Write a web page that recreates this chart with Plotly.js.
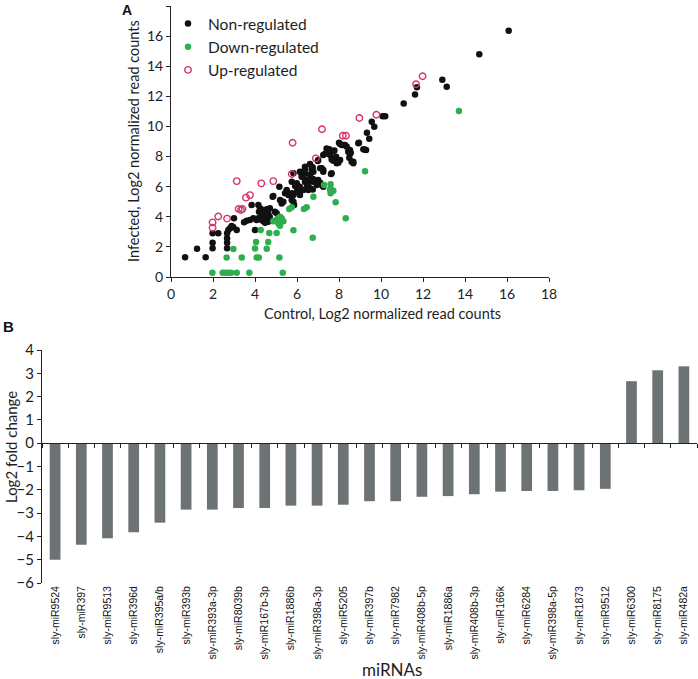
<!DOCTYPE html>
<html>
<head>
<meta charset="utf-8">
<script src="https://cdn.plot.ly/plotly-3.0.1.min.js"></script>
<style>html,body{margin:0;padding:0;background:#fff;}#chart{width:698px;height:679px;}</style>
</head>
<body>
<div id="chart"></div>
<script>
// ---------- Panel A data (Log2 normalized read counts) ----------
const nonRegX = [0.67,1.24,1.65,1.98,1.98,1.98,2.25,2.67,2.67,2.67,2.67,2.73,2.81,2.89,2.97,3.13,3.00,3.48,3.60,3.76,3.92,4.08,4.16,3.84,4.00,4.16,4.24,4.19,4.32,4.40,4.48,4.32,4.48,4.63,4.56,4.71,4.63,4.48,4.32,4.40,4.70,4.84,4.95,5.03,4.87,5.19,5.27,5.35,5.43,5.51,5.59,5.75,5.99,5.75,5.83,5.86,5.83,6.14,6.06,5.51,5.16,5.91,5.75,5.99,6.06,6.14,6.30,6.46,6.54,6.54,6.43,6.70,6.78,6.62,6.38,6.22,5.83,6.14,6.22,6.30,6.38,6.38,6.62,6.70,6.75,6.70,6.78,6.78,6.86,7.01,7.10,7.18,6.38,6.46,6.49,6.62,6.75,6.94,7.10,7.25,7.18,7.25,7.10,7.25,7.62,7.65,6.99,7.01,7.25,7.35,7.41,7.41,7.54,7.57,7.78,7.73,7.73,7.86,7.94,7.97,7.89,7.65,7.73,8.05,8.00,8.05,8.13,8.21,8.29,8.37,8.44,8.52,8.56,8.52,8.49,8.60,8.68,8.68,8.92,8.95,9.16,9.29,9.24,9.33,9.44,9.56,9.68,10.08,10.20,11.08,11.62,11.71,12.92,13.13,14.68,16.08];
const nonRegY = [1.31,1.88,1.31,1.91,2.28,2.90,2.90,1.91,2.28,2.57,2.90,3.12,3.23,3.39,3.30,3.12,3.90,3.63,3.74,3.78,3.90,3.78,3.90,4.78,3.12,4.78,4.56,4.34,4.23,4.45,4.27,4.00,3.96,4.23,4.50,4.56,3.67,3.61,3.78,3.70,4.00,5.33,4.34,4.23,5.38,5.11,4.89,5.00,5.56,5.66,5.44,5.56,5.66,5.11,5.00,4.78,5.44,5.44,5.66,5.78,6.00,6.04,6.33,6.22,6.00,6.00,5.78,5.89,5.78,6.22,6.44,6.55,6.33,6.77,6.89,6.66,6.89,6.99,6.89,6.66,7.32,7.15,7.50,7.32,7.28,7.10,6.99,6.49,6.40,6.44,6.26,6.11,6.33,6.22,6.04,5.89,5.82,6.11,6.22,6.00,7.22,7.10,7.22,6.99,6.84,6.89,7.70,7.77,8.10,8.21,8.21,8.54,8.48,8.10,8.41,8.37,7.88,7.99,7.77,7.59,7.55,7.81,7.72,7.77,8.92,8.83,8.77,8.77,8.77,8.65,8.32,8.43,8.25,8.21,7.92,7.66,7.55,7.66,8.88,8.92,8.48,8.43,8.45,9.58,9.18,10.31,9.98,10.67,10.67,11.53,12.13,12.60,13.10,12.64,14.79,16.36];

const downX = [1.97,2.46,2.60,2.73,2.86,3.13,3.73,5.32,2.65,2.97,3.37,4.00,4.05,4.08,4.18,4.27,4.56,4.63,4.68,5.03,5.16,5.19,4.87,5.03,5.11,5.19,5.27,5.35,5.11,5.63,5.75,5.83,6.33,6.46,6.78,6.75,7.29,7.60,7.57,7.65,7.73,7.60,7.84,8.32,9.24,13.71];
const downY = [0.29,0.29,0.29,0.29,0.29,0.29,0.29,0.29,1.30,1.86,1.30,1.90,2.32,1.30,1.30,3.12,1.88,2.32,2.92,2.92,1.30,3.40,3.70,3.80,3.92,4.00,3.90,3.70,3.56,4.52,4.63,3.10,4.52,4.63,5.33,2.61,6.11,6.16,5.82,5.78,5.73,5.56,4.96,3.90,7.02,11.02];

const upX = [1.98,1.98,2.25,2.67,3.13,3.22,3.33,3.40,3.57,3.76,4.30,4.87,5.75,5.79,6.90,7.19,8.18,8.33,8.97,9.78,11.67,11.98];
const upY = [3.27,3.63,4.02,3.88,6.37,4.52,4.45,4.52,5.27,5.44,6.22,6.37,6.84,8.92,7.88,9.81,9.38,9.38,10.56,10.78,12.80,13.33];

const seriesNames = ["Non-regulated", "Down-regulated", "Up-regulated"];

// ---------- Panel B data (Log2 fold change) ----------
const miRNAs = ["sly-miR9524","sly-miR397","sly-miR9513","sly-miR396d","sly-miR395a/b","sly-miR393b","sly-miR393a-3p","sly-miR8039b","sly-miR167b-3p","sly-miR1886b","sly-miR398a-3p","sly-miR5205","sly-miR397b","sly-miR7982","sly-miR408b-5p","sly-miR1886a","sly-miR408b-3p","sly-miR166k","sly-miR6284","sly-miR398a-5p","sly-miR1873","sly-miR9512","sly-miR6300","sly-miR8175","sly-miR482a"];
const foldChange = [-5.0,-4.36,-4.08,-3.82,-3.41,-2.85,-2.85,-2.78,-2.78,-2.68,-2.68,-2.64,-2.49,-2.49,-2.30,-2.27,-2.19,-2.08,-2.05,-2.05,-2.02,-1.96,2.66,3.13,3.30];

const scatterTicks = [0,2,4,6,8,10,12,14,16,18];
const barTicks = [4,3,2,1,0,-1,-2,-3,-4,-5,-6];

// ---------- layout helpers (pixel -> paper) ----------
const W = 698, H = 679;
const px = v => v / W;
const py = v => 1 - v / H;

const y2dom = [py(583), py(350)];
const y2range = [-6, 4];
const zeroPos = y2dom[0] + (0 - y2range[0]) / (y2range[1] - y2range[0]) * (y2dom[1] - y2dom[0]);

const txt = '#1e1e1e';
const FONT = 'Lato, "Open Sans", sans-serif';

const traces = [
  {type:'scatter', mode:'markers', name:seriesNames[0], x:nonRegX, y:nonRegY, xaxis:'x', yaxis:'y',
   marker:{color:'#111111', size:6.5}, hoverinfo:'x+y'},
  {type:'scatter', mode:'markers', name:seriesNames[1], x:downX, y:downY, xaxis:'x', yaxis:'y',
   marker:{color:'#2fae4e', size:6.5}, hoverinfo:'x+y'},
  {type:'scatter', mode:'markers', name:seriesNames[2], x:upX, y:upY, xaxis:'x', yaxis:'y',
   marker:{symbol:'circle-open', color:'#d6336b', size:6.5, line:{width:1.4, color:'#d6336b'}}, hoverinfo:'x+y'},
  {type:'bar', x:miRNAs, y:foldChange, xaxis:'x2', yaxis:'y2', showlegend:false,
   marker:{color:'#6d7375'}, hoverinfo:'x+y'},
  // carrier for the zero-line axis categories (invisible)
  {type:'scatter', mode:'markers', x:miRNAs, y:foldChange, xaxis:'x3', yaxis:'y2', showlegend:false,
   marker:{opacity:0}, hoverinfo:'skip'}
];

const axisCommon = {showgrid:false, zeroline:false, showline:true, linecolor:'#222', linewidth:1,
  ticks:'outside', ticklen:4, tickcolor:'#222', tickwidth:1, fixedrange:true};

const layout = {
  width: W, height: H,
  margin:{l:0, r:0, t:0, b:0},
  paper_bgcolor:'#ffffff', plot_bgcolor:'rgba(0,0,0,0)',
  font:{family:FONT, color:txt, size:13},
  showlegend:true,
  bargap:0.59,
  legend:{x:px(168), y:py(7), xanchor:'left', yanchor:'top', bgcolor:'rgba(0,0,0,0)',
    font:{family:FONT, size:15.5, color:txt}, tracegroupgap:0, itemwidth:30},
  xaxis: Object.assign({}, axisCommon, {domain:[px(171), px(549)], range:[0,18], tickvals:scatterTicks,
    anchor:'y', tickfont:{family:FONT, size:14, color:txt}}),
  yaxis: Object.assign({}, axisCommon, {domain:[py(277), py(6)], range:[0,18], tickvals:scatterTicks,
    anchor:'x', tickfont:{family:FONT, size:14, color:txt}}),
  xaxis2: {domain:[px(42), px(697)], anchor:'y2', type:'category', categoryorder:'array', categoryarray:miRNAs,
    range:[-0.5, miRNAs.length-0.5], showline:false, showgrid:false, zeroline:false, ticks:'',
    tickangle:-90, tickfont:{family:'"Liberation Sans", Arial, sans-serif', size:10.5, color:'#111'}, fixedrange:true},
  xaxis3: {overlaying:'x2', anchor:'free', position:zeroPos, type:'category', categoryorder:'array', categoryarray:miRNAs,
    range:[-0.5, miRNAs.length-0.5], showline:true, linecolor:'#222', linewidth:1, showgrid:false, zeroline:false,
    ticks:'outside', tickson:'boundaries', ticklen:4, tickcolor:'#222', showticklabels:false, fixedrange:true},
  yaxis2: Object.assign({}, axisCommon, {domain:y2dom, range:y2range, tickvals:barTicks, anchor:'x2',
    tickfont:{family:FONT, size:15, color:txt}}),
  annotations:[
    {text:'A', xref:'paper', yref:'paper', x:px(127), y:py(10), xanchor:'center', yanchor:'middle', showarrow:false,
     font:{family:'"Liberation Sans", Arial, sans-serif', size:14, color:'#111', weight:'bold'}},
    {text:'B', xref:'paper', yref:'paper', x:px(8), y:py(326), xanchor:'center', yanchor:'middle', showarrow:false,
     font:{family:'"Liberation Sans", Arial, sans-serif', size:15, color:'#111', weight:'bold'}},
    {text:'Infected, Log2 normalized read counts', xref:'paper', yref:'paper', x:px(133), y:py(141),
     xanchor:'center', yanchor:'middle', textangle:-90, showarrow:false, font:{family:FONT, size:14.5, color:txt}},
    {text:'Control, Log2 normalized read counts', xref:'paper', yref:'paper', x:px(382), y:py(313),
     xanchor:'center', yanchor:'middle', showarrow:false, font:{family:FONT, size:14.5, color:txt}},
    {text:'Log2 fold change', xref:'paper', yref:'paper', x:px(11), y:py(447),
     xanchor:'center', yanchor:'middle', textangle:-90, showarrow:false, font:{family:FONT, size:15, color:txt}},
    {text:'miRNAs', xref:'paper', yref:'paper', x:px(392), y:py(669),
     xanchor:'center', yanchor:'middle', showarrow:false, font:{family:FONT, size:17, color:txt}}
  ]
};

Plotly.newPlot('chart', traces, layout, {displayModeBar:false, staticPlot:true});
</script>
</body>
</html>
